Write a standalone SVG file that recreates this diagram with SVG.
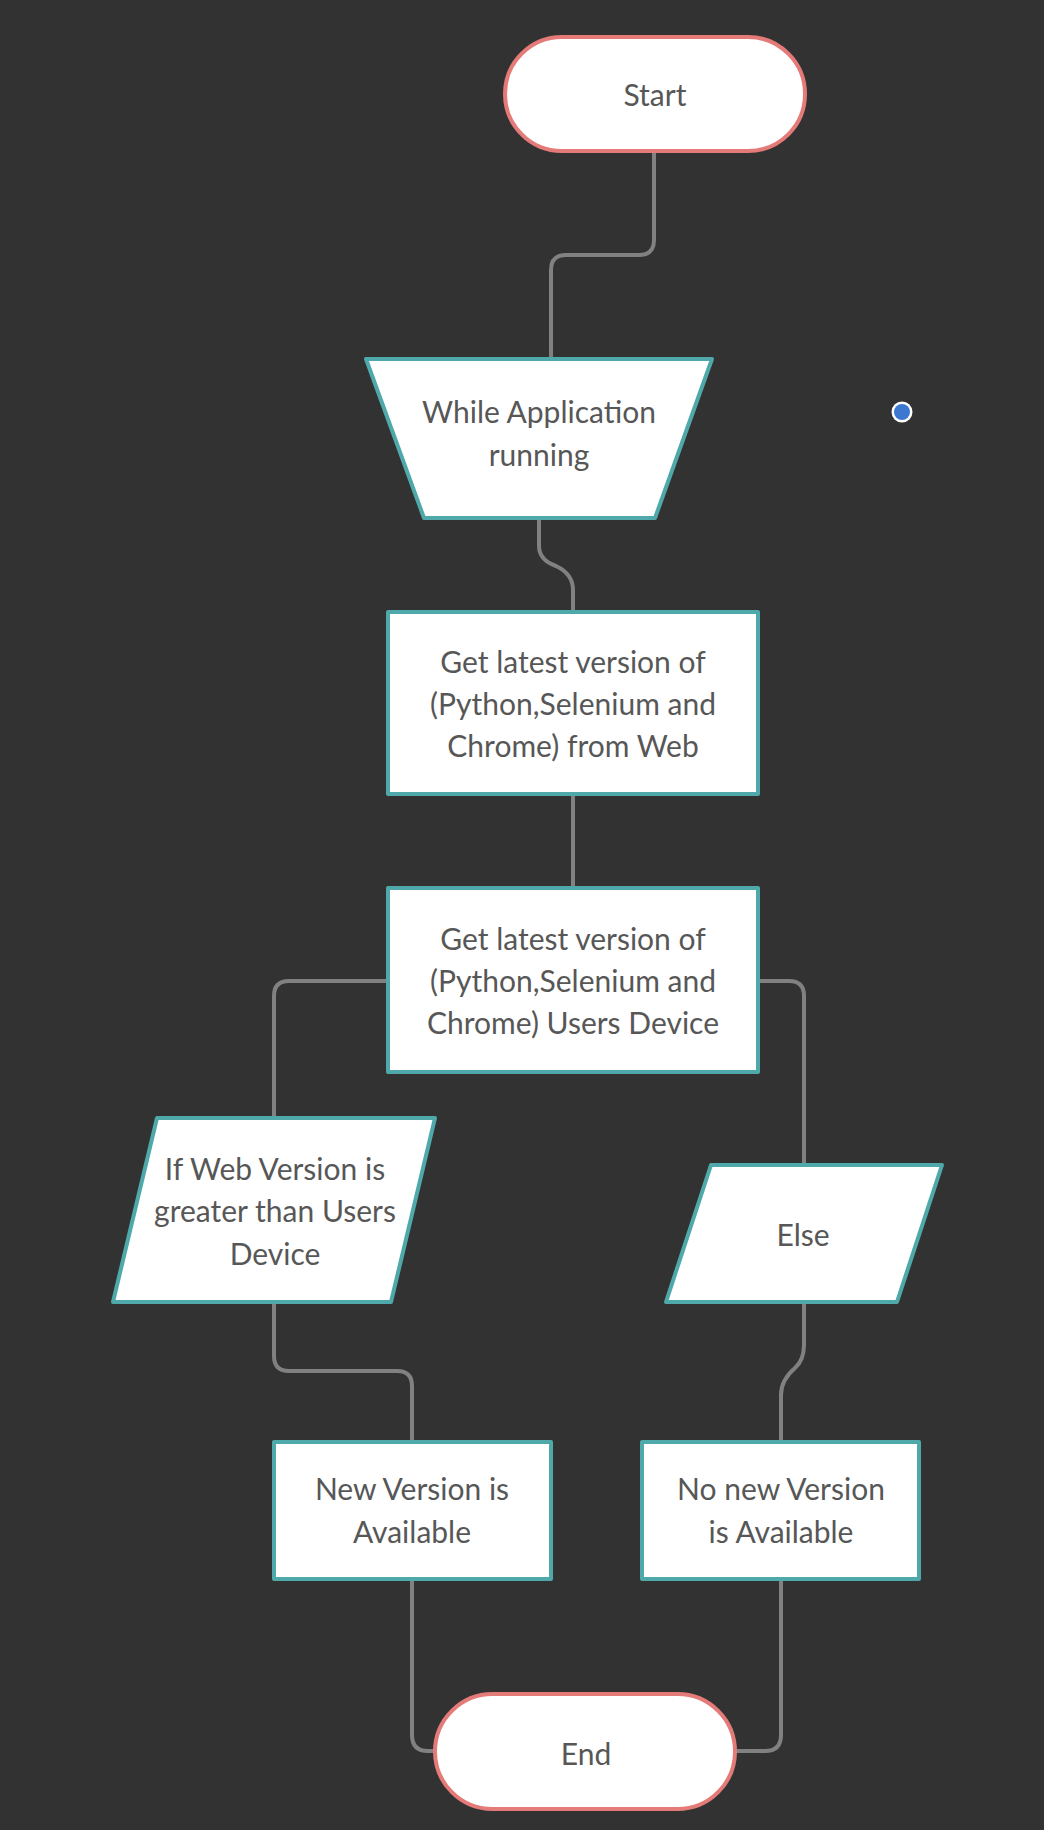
<svg xmlns="http://www.w3.org/2000/svg" width="1044" height="1830" viewBox="0 0 1044 1830">
<style>
.term{fill:#ffffff;stroke:#e57b78;stroke-width:4}
.proc{fill:#ffffff;stroke:#4fa9aa;stroke-width:4;stroke-linejoin:round}
.conn{fill:none;stroke:#818181;stroke-width:4}
text{font-family:Lato,"Open Sans","Liberation Sans",sans-serif;font-size:30px;fill:#575757;text-anchor:middle}
</style>
<rect x="0" y="0" width="1044" height="1830" fill="#323232"/>
<g id="connectors">
<path class="conn" d="M654 151 V240 Q654 255 639 255 H566 Q551 255 551 270 V359"/>
<path class="conn" d="M539 518 V546 Q539 560 556 566 Q573 574 573 590 V612"/>
<path class="conn" d="M573 794 V888"/>
<path class="conn" d="M388 981 H289 Q274 981 274 996 V1118"/>
<path class="conn" d="M758 981 H789 Q804 981 804 996 V1165"/>
<path class="conn" d="M274 1302 V1356 Q274 1371 289 1371 H397 Q412 1371 412 1386 V1442"/>
<path class="conn" d="M804 1302 V1345 Q804 1360 795 1368 Q781 1380 781 1395 V1442"/>
<path class="conn" d="M412 1579 V1735 Q412 1751 428 1751 H437"/>
<path class="conn" d="M781 1579 V1735 Q781 1751 765 1751 H733"/>
</g>
<g id="start">
<rect class="term" x="505" y="37" width="300" height="114" rx="57"/>
<text x="655" y="106">Start</text>
</g>
<g id="while">
<polygon class="proc" points="366,359 712,359 655,518 424,518"/>
<text x="539" y="423">While Application</text>
<text x="539" y="466">running</text>
</g>
<g id="web">
<rect class="proc" x="388" y="612" width="370" height="182"/>
<text x="573" y="673">Get latest version of</text>
<text x="573" y="715">(Python,Selenium and</text>
<text x="573" y="757">Chrome) from Web</text>
</g>
<g id="device">
<rect class="proc" x="388" y="888" width="370" height="184"/>
<text x="573" y="950">Get latest version of</text>
<text x="573" y="992">(Python,Selenium and</text>
<text x="573" y="1034">Chrome) Users Device</text>
</g>
<g id="ifweb">
<polygon class="proc" points="157,1118 435,1118 391,1302 113,1302"/>
<text x="275" y="1180">If Web Version is</text>
<text x="275" y="1222">greater than Users</text>
<text x="275" y="1265">Device</text>
</g>
<g id="else">
<polygon class="proc" points="711,1165 942,1165 897,1302 666,1302"/>
<text x="803" y="1246">Else</text>
</g>
<g id="newver">
<rect class="proc" x="274" y="1442" width="277" height="137"/>
<text x="412" y="1500">New Version is</text>
<text x="412" y="1543">Available</text>
</g>
<g id="nonew">
<rect class="proc" x="642" y="1442" width="277" height="137"/>
<text x="781" y="1500">No new Version</text>
<text x="781" y="1543">is Available</text>
</g>
<g id="end">
<rect class="term" x="435" y="1694" width="300" height="115" rx="57.5"/>
<text x="586" y="1765">End</text>
</g>
<g id="dot">
<circle cx="902" cy="412" r="10.5" fill="#ffffff"/>
<circle cx="902" cy="412" r="8" fill="#3c78d0"/>
</g>
</svg>
